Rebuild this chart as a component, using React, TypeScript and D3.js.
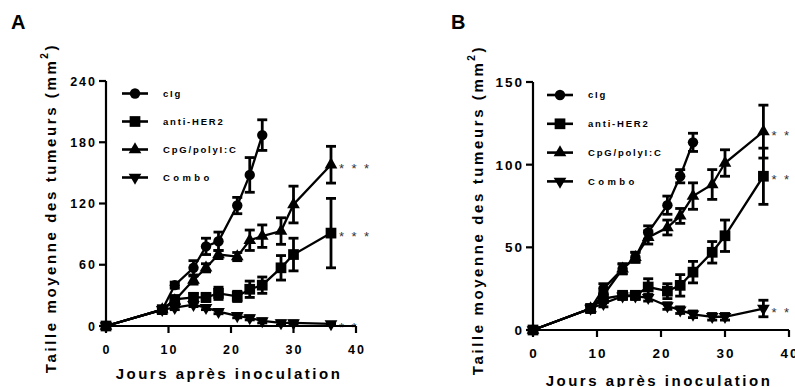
import * as d3 from "d3";

// jours de mesure
const days = [0, 9, 11, 14, 16, 18, 21, 23, 25, 28, 30, 36];
const seriesNames = ["cIg", "anti-HER2", "CpG/polyI:C", "Combo"];
const xTicks = [0, 10, 20, 30, 40];
const yTicksA = [0, 60, 120, 180, 240];
const yTicksB = [0, 50, 100, 150];

// panneau A
const cIgA = [0, 16, 40, 57, 78, 83, 118, 148, 187];
const cIgErrA = [0, 2, 3, 7, 8, 9, 8, 17, 15];
const antiHer2A = [0, 16, 26, 28, 28, 32, 29, 36, 40, 57, 70, 91];
const antiHer2ErrA = [0, 2, 3, 4, 4, 6, 5, 8, 8, 12, 16, 34];
const cpgA = [0, 16, 25, 45, 57, 70, 68, 84, 88, 93, 119, 158];
const cpgErrA = [0, 2, 3, 4, 4, 4, 4, 10, 11, 13, 18, 18];
const comboA = [0, 16, 18, 21, 18, 14, 10, 8, 5, 3, 3, 2];
const comboErrA = [0, 2, 2, 2, 2, 2, 2, 2, 2, 2, 2, 1];
const starsA = ["", "***", "***", "**"];

// panneau B
const cIgB = [0, 13, 25, 37, 44, 59, 75.5, 93, 113.5];
const cIgErrB = [0, 2, 3, 3, 3, 4, 5.5, 4, 5.5];
const antiHer2B = [0, 13, 19, 21, 21, 26, 23.5, 27, 35, 47, 57, 93];
const antiHer2ErrB = [0, 2, 2, 2, 2, 5, 4.5, 6.5, 6.5, 6.5, 9.5, 17];
const cpgB = [0, 13, 21, 37, 44, 56, 62, 69, 81, 88, 101, 120];
const cpgErrB = [0, 2, 2, 3, 3, 4, 4.5, 4.5, 8, 9, 8, 16];
const comboB = [0, 13, 16, 20.5, 20.5, 19.5, 14.5, 12, 9.5, 8, 8, 13];
const comboErrB = [0, 2, 2, 2, 2, 2, 2, 2, 2, 2, 2, 5];
const starsB = ["", "***", "**", "***"];

const FONT = "'Liberation Sans', Arial, sans-serif";

const symbols = [
  { type: d3.symbolCircle, size: 85, rot: 0 },
  { type: d3.symbolSquare, size: 115, rot: 0 },
  { type: d3.symbolTriangle, size: 70, rot: 0 },
  { type: d3.symbolTriangle, size: 70, rot: 180 },
];

type Props = {
  letter: string;
  letterX: number;
  xRange: [number, number];
  yRange: [number, number];
  yMax: number;
  yTicks: number[];
  values: number[][];
  errs: number[][];
  stars: string[];
  tickFont: number;
  labelX: number;
  xLabelY: number;
  legendX: number;
  legendY: number;
  legendStep: number;
};

function Panel(p: Props) {
  const x = d3.scaleLinear().domain([0, 40]).range(p.xRange);
  const y = d3.scaleLinear().domain([0, p.yMax]).range(p.yRange);
  const line = d3
    .line<number>()
    .x((d, i) => x(days[i]))
    .y((d) => y(d));
  const x0 = p.xRange[0];
  const y0 = p.yRange[0];
  const yLabelCenter = (p.yRange[0] + 42 + 40) / 2 + 4;
  const xLabelCenter = (p.xRange[0] + p.xRange[1]) / 2 - 2;

  return (
    <g fontFamily={FONT}>
      <text x={p.letterX} y={29} fontSize={20} fontWeight="bold">
        {p.letter}
      </text>

      {/* séries */}
      {p.values.map((vals, s) => (
        <g key={s}>
          <path d={line(vals) || ""} fill="none" stroke="#000" strokeWidth={2.3} />
          {vals.map((v, i) => {
            const e = p.errs[s][i];
            if (!e) return null;
            const cx = x(days[i]);
            return (
              <g key={i} stroke="#000" strokeWidth={2.8}>
                <line x1={cx} x2={cx} y1={y(v - e)} y2={y(v + e)} />
                <line x1={cx - 5} x2={cx + 5} y1={y(v - e)} y2={y(v - e)} />
                <line x1={cx - 5} x2={cx + 5} y1={y(v + e)} y2={y(v + e)} />
              </g>
            );
          })}
          {vals.map((v, i) => (
            <path
              key={"m" + i}
              d={d3.symbol(symbols[s].type, symbols[s].size)() || ""}
              transform={`translate(${x(days[i])},${y(v)}) rotate(${symbols[s].rot})`}
              fill="#000"
            />
          ))}
          {p.stars[s] && (
            <text
              x={x(days[vals.length - 1]) + 8}
              y={y(vals[vals.length - 1]) + 8}
              fontSize={13}
              letterSpacing={7.5}
              fill="#333"
            >
              {p.stars[s]}
            </text>
          )}
        </g>
      ))}

      {/* axes */}
      <line x1={x0} x2={x0} y1={y0 + 1} y2={p.yRange[1]} stroke="#000" strokeWidth={2.2} />
      <line x1={x0 - 1} x2={p.xRange[1]} y1={y0} y2={y0} stroke="#000" strokeWidth={2.2} />
      {p.yTicks.map((t) => (
        <g key={t}>
          <line x1={x0 - 7} x2={x0} y1={y(t)} y2={y(t)} stroke="#000" strokeWidth={2.2} />
          <text
            x={x0 - 11 + 2}
            y={y(t)}
            dy="0.36em"
            textAnchor="end"
            fontSize={p.tickFont}
            fontWeight="bold"
            letterSpacing={2}
          >
            {t}
          </text>
        </g>
      ))}
      {xTicks.map((t) => (
        <g key={t}>
          <line x1={x(t)} x2={x(t)} y1={y0} y2={y0 + 7} stroke="#000" strokeWidth={2.2} />
          <text
            x={x(t) + 1}
            y={y0 + 28}
            textAnchor="middle"
            fontSize={p.tickFont}
            fontWeight="bold"
            letterSpacing={2}
          >
            {t}
          </text>
        </g>
      ))}

      {/* titres des axes */}
      <text
        x={xLabelCenter}
        y={p.xLabelY}
        textAnchor="middle"
        fontSize={15}
        fontWeight="bold"
        letterSpacing={2.5}
      >
        Jours après inoculation
      </text>
      <text
        transform={`translate(${p.labelX},${yLabelCenter}) rotate(-90)`}
        textAnchor="middle"
        fontSize={15}
        fontWeight="bold"
        letterSpacing={2.6}
      >
        Taille moyenne des tumeurs (mm
        <tspan fontSize={10} dy={-8}>2</tspan>
        <tspan dy={8}>)</tspan>
      </text>

      {/* légende */}
      {seriesNames.map((name, s) => {
        const ly = p.legendY + s * p.legendStep;
        return (
          <g key={name}>
            <line
              x1={p.legendX}
              x2={p.legendX + 26}
              y1={ly}
              y2={ly}
              stroke="#000"
              strokeWidth={2.6}
            />
            <path
              d={d3.symbol(symbols[s].type, symbols[s].size)() || ""}
              transform={`translate(${p.legendX + 13},${ly}) rotate(${symbols[s].rot})`}
              fill="#000"
            />
            <text
              x={p.legendX + 41}
              y={ly}
              dy="0.36em"
              fontSize={9.5}
              fontWeight="bold"
              letterSpacing={name === "Combo" ? 3.4 : 1.8}
            >
              {name}
            </text>
          </g>
        );
      })}
    </g>
  );
}

export default function App() {
  return (
    <svg
      width={795}
      height={387}
      style={{ position: "absolute", left: 0, top: 0, background: "#fff" }}
    >
      <Panel
        letter="A"
        letterX={11}
        xRange={[106, 356]}
        yRange={[326, 81]}
        yMax={240}
        yTicks={yTicksA}
        values={[cIgA, antiHer2A, cpgA, comboA]}
        errs={[cIgErrA, antiHer2ErrA, cpgErrA, comboErrA]}
        stars={starsA}
        tickFont={12.5}
        labelX={56}
        xLabelY={379}
        legendX={122}
        legendY={93.5}
        legendStep={28}
      />
      <Panel
        letter="B"
        letterX={451}
        xRange={[533, 789]}
        yRange={[330, 82]}
        yMax={150}
        yTicks={yTicksB}
        values={[cIgB, antiHer2B, cpgB, comboB]}
        errs={[cIgErrB, antiHer2ErrB, cpgErrB, comboErrB]}
        stars={starsB}
        tickFont={13.5}
        labelX={483}
        xLabelY={386}
        legendX={547}
        legendY={95}
        legendStep={28.8}
      />
    </svg>
  );
}
